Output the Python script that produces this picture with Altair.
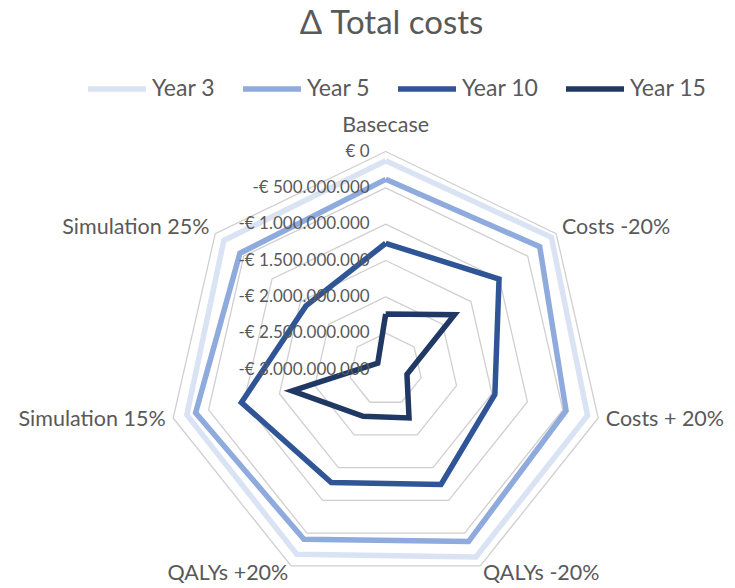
import altair as alt
import pandas as pd

# ---------------- data ----------------
categories = ["Basecase", "Costs -20%", "Costs + 20%", "QALYs -20%",
              "QALYs +20%", "Simulation 15%", "Simulation 25%"]
series = ["Year 3", "Year 5", "Year 10", "Year 15"]
colors = ["#DAE3F3", "#8FAADC", "#2F5597", "#203864"]

year3 = [-127e6, -83e6, -151e6, -138e6, -179e6, -193e6, -151e6]
year5 = [-383e6, -289e6, -454e6, -372e6, -406e6, -317e6, -434e6]
year10 = [-1263e6, -1005e6, -1459e6, -1245e6, -1273e6, -963e6, -1596e6]
year15 = [-2236e6, -1789e6, -2700e6, -2260e6, -2285e6, -1680e6, -2860e6]

tick_values = [0, -500e6, -1000e6, -1500e6, -2000e6, -2500e6, -3000e6]
tick_labels = ["€ 0", "-€ 500.000.000", "-€ 1.000.000.000", "-€ 1.500.000.000",
               "-€ 2.000.000.000", "-€ 2.500.000.000", "-€ 3.000.000.000"]

title_text = ["Δ Total costs"]

# ---------------- layout ----------------
N = len(categories)
VMIN, VMAX = -3e9, 0.0
W, H = 719, 580
CX, CY, R = 377.7, 361.5, 218.0
xdom = [-CX / R, (W - CX) / R]
ydom = [-(H - CY) / R, CY / R]
TXT = "#595959"
FONT = "Lato"
CAT_SIZE = 21.5

# ---------------- tables ----------------
rows = []
for s, vals in zip(series, [year3, year5, year10, year15]):
    for i in range(N + 1):
        rows.append({"series": s, "idx": i, "category": categories[i % N],
                     "value": vals[i % N]})
df_lines = pd.DataFrame(rows)

ring_rows = []
for t in tick_values:
    if t == VMIN:
        continue
    for i in range(N + 1):
        ring_rows.append({"ring": str(t), "idx": i, "value": t})
df_rings = pd.DataFrame(ring_rows)

df_ticks = pd.DataFrame({"value": tick_values, "label": tick_labels, "idx": 0})
df_cats = pd.DataFrame({"category": categories, "idx": list(range(N)), "value": VMAX})
df_title = pd.DataFrame({"t": title_text})


def polar(chart, factor=1.0):
    return chart.transform_calculate(
        ang=f"datum.idx * 2 * PI / {N}",
        rn=f"{factor} * (datum.value - ({VMIN})) / ({VMAX - VMIN})",
    ).transform_calculate(
        px="datum.rn * sin(datum.ang)",
        py="datum.rn * cos(datum.ang)",
    )


X = alt.X("px:Q", scale=alt.Scale(domain=xdom, nice=False, zero=False), axis=None)
Y = alt.Y("py:Q", scale=alt.Scale(domain=ydom, nice=False, zero=False), axis=None)

rings = polar(alt.Chart(df_rings)).mark_line(
    stroke="#D0D0D0", strokeWidth=1.3
).encode(x=X, y=Y, detail="ring:N", order="idx:Q")

lines = polar(alt.Chart(df_lines)).mark_line(
    strokeWidth=5.5, strokeJoin="miter"
).encode(
    x=X, y=Y, order="idx:Q",
    color=alt.Color(
        "series:N",
        scale=alt.Scale(domain=series, range=colors),
        legend=alt.Legend(
            orient="none", legendX=77, legendY=49, direction="horizontal",
            title=None, symbolType="stroke", symbolSize=3364,
            symbolStrokeWidth=5.5, labelFont=FONT, labelFontSize=23,
            labelColor=TXT, labelOffset=3, columnPadding=16, gridAlign="none",
        ),
    ),
)

ticks = polar(alt.Chart(df_ticks)).mark_text(
    align="right", baseline="middle", dx=-16, font=FONT, fontSize=17, color=TXT
).encode(x=X, y=Y, text="label:N")

cat_top = polar(alt.Chart(df_cats), 1.04).transform_filter("datum.idx == 0").mark_text(
    align="center", baseline="bottom", dy=-6, font=FONT, fontSize=CAT_SIZE, color=TXT
).encode(x=X, y=Y, text="category:N")

cat_right = polar(alt.Chart(df_cats), 1.04).transform_filter(
    "datum.idx >= 1 && datum.idx <= 3").mark_text(
    align="left", baseline="middle", dx=-1, font=FONT, fontSize=CAT_SIZE, color=TXT
).encode(x=X, y=Y, text="category:N")

cat_left = polar(alt.Chart(df_cats), 1.04).transform_filter(
    "datum.idx >= 4").mark_text(
    align="right", baseline="middle", dx=1, font=FONT, fontSize=CAT_SIZE, color=TXT
).encode(x=X, y=Y, text="category:N")

title = alt.Chart(df_title).mark_text(
    align="center", baseline="alphabetic", font=FONT, fontSize=33, color=TXT
).encode(text="t:N", x=alt.value(383.5), y=alt.value(26))

chart = alt.layer(rings, lines, ticks, cat_top, cat_right, cat_left, title).properties(
    width=W, height=H,
    autosize=alt.AutoSizeParams(type="none"),
    padding=0,
).configure_view(stroke=None)

chart.save("out.html", embed_options={"renderer": "svg", "actions": False})
